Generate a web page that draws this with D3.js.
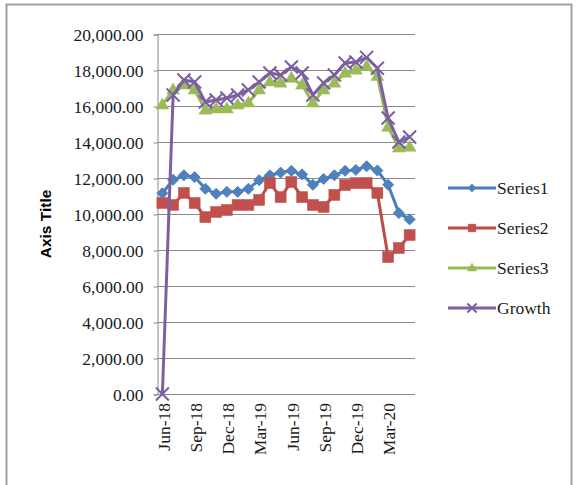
<!DOCTYPE html>
<html><head><meta charset="utf-8">
<script src="https://cdn.jsdelivr.net/npm/d3@7"></script>
<style>
html,body{margin:0;padding:0;background:#fff;}
svg{display:block;}
</style></head>
<body>
<svg id="chart" width="576" height="485"></svg>
<script>
// ---- data ----
const months = ["Jun-18","Jul-18","Aug-18","Sep-18","Oct-18","Nov-18","Dec-18","Jan-19","Feb-19","Mar-19","Apr-19","May-19",
                "Jun-19","Jul-19","Aug-19","Sep-19","Oct-19","Nov-19","Dec-19","Jan-20","Feb-20","Mar-20","Apr-20","May-20"];
const series1 = [11150,11900,12150,12050,11400,11120,11230,11230,11400,11880,12150,12300,
                 12400,12200,11620,11950,12150,12400,12450,12650,12420,11620,10050,9700];
const series2 = [10610,10500,11170,10610,9830,10110,10220,10500,10500,10780,11720,10940,
                 11780,10940,10500,10390,11060,11610,11720,11720,11170,7610,8110,8830];
const series3 = [16060,16900,17170,16900,15780,15850,15850,16060,16170,16900,17350,17280,
                 17550,17170,16170,16900,17280,17830,18000,18200,17650,14830,13670,13720];
const growth  = [0,16610,17440,17330,16220,16330,16440,16610,16890,17330,17830,17720,
                 18170,17830,16610,17280,17720,18390,18440,18700,18100,15330,14000,14280];
const yTicks = [0,2000,4000,6000,8000,10000,12000,14000,16000,18000,20000];
const seriesNames = ["Series1","Series2","Series3","Growth"];
const axisTitle = "Axis Title";

const svg = d3.select("#chart");
const W = 576, H = 485;

// chart frame
svg.append("rect").attr("x",6.5).attr("y",4.5).attr("width",565).attr("height",H+10)
  .attr("fill","#fff").attr("stroke","#a0a0a0").attr("stroke-width",2);

const x = d3.scalePoint().domain(months).range([157,415]).padding(0.5);
const y = d3.scaleLinear().domain([0,20000]).range([394,34]);

// gridlines
svg.append("g").selectAll("line").data(yTicks).join("line")
  .attr("x1",157).attr("x2",415).attr("y1",d=>Math.round(y(d))+0.5).attr("y2",d=>Math.round(y(d))+0.5)
  .attr("stroke","#8a8a8a").attr("stroke-width",1);

// y axis
const yAxis = d3.axisLeft(y).tickValues(yTicks).tickSize(4).tickPadding(10).tickFormat(d3.format(",.2f"));
const gy = svg.append("g").attr("transform","translate(157.5,0.5)").call(yAxis);
gy.select(".domain").attr("stroke","#8a8a8a");
gy.selectAll(".tick line").attr("stroke","#8a8a8a");
gy.selectAll("text").attr("font-family","'Liberation Serif', serif").attr("font-size","17.5px").attr("fill","#1a1a1a");

// x axis labels (every 3rd category)
const xLab = months.filter((d,i)=>i%3===0);
svg.append("g").selectAll("text").data(xLab).join("text")
  .attr("transform",d=>`translate(${x(d)+1},403) rotate(-90)`)
  .attr("text-anchor","end").attr("dy","0.35em")
  .attr("font-family","'Liberation Serif', serif").attr("font-size","17.5px").attr("fill","#1a1a1a")
  .text(d=>d);

// axis title
svg.append("text").attr("transform","translate(46,224) rotate(-90)")
  .attr("text-anchor","middle").attr("dy","0.35em")
  .attr("font-family","'Liberation Sans', Arial, sans-serif").attr("font-weight","bold").attr("font-size","15.5px")
  .attr("fill","#000").text(axisTitle);

// markers
function marker(g, type, color, cx, cy, k){
  k = k || 1;
  if(type==="diamond"){
    const r=5.5*k;
    g.append("path").attr("d",`M${cx},${cy-r}L${cx+r},${cy}L${cx},${cy+r}L${cx-r},${cy}Z`)
      .attr("fill",color.m).attr("stroke",color.m).attr("stroke-width",1);
  } else if(type==="square"){
    const s=11*k;
    g.append("rect").attr("x",cx-s/2).attr("y",cy-s/2).attr("width",s).attr("height",s)
      .attr("fill",color.m).attr("stroke",color.m).attr("stroke-width",0.5);
  } else if(type==="triangle"){
    const h=11*k, w=13*k;
    g.append("path").attr("d",`M${cx},${cy-h*0.62}L${cx+w/2},${cy+h*0.38}L${cx-w/2},${cy+h*0.38}Z`)
      .attr("fill",color.m).attr("stroke",color.m).attr("stroke-width",0.5);
  } else if(type==="x"){
    const r=6.5*k;
    g.append("path").attr("d",`M${cx-r},${cy-r}L${cx+r},${cy+r}M${cx-r},${cy+r}L${cx+r},${cy-r}`)
      .attr("stroke",color.m).attr("stroke-width",2).attr("fill","none");
  }
}

const defs = [
  {name:seriesNames[0], data:series1, line:"#4a7ebb", m:"#4f81bd", type:"diamond"},
  {name:seriesNames[1], data:series2, line:"#be4b48", m:"#c0504d", type:"square"},
  {name:seriesNames[2], data:series3, line:"#98b954", m:"#9bbb59", type:"triangle"},
  {name:seriesNames[3], data:growth,  line:"#7d60a0", m:"#7b5fa0", type:"x"}
];

const lineGen = d3.line().x((d,i)=>x(months[i])).y(d=>y(d));
defs.forEach(s=>{
  const g = svg.append("g");
  g.append("path").attr("d",lineGen(s.data)).attr("fill","none").attr("stroke",s.line)
    .attr("stroke-width",3).attr("stroke-linejoin","round").attr("stroke-linecap","round");
  s.data.forEach((v,i)=>marker(g, s.type, s, x(months[i]), y(v)));
});

// legend
const leg = svg.append("g");
defs.forEach((s,i)=>{
  const ly = 188 + i*40;
  leg.append("line").attr("x1",448).attr("x2",496).attr("y1",ly).attr("y2",ly)
    .attr("stroke",s.line).attr("stroke-width",3);
  marker(leg, s.type, s, 472, ly, 0.7);
  leg.append("text").attr("x",497).attr("y",ly).attr("dy","0.35em")
    .attr("font-family","'Liberation Serif', serif").attr("font-size","17.5px").attr("fill","#1a1a1a")
    .text(s.name);
});
</script>
</body></html>
